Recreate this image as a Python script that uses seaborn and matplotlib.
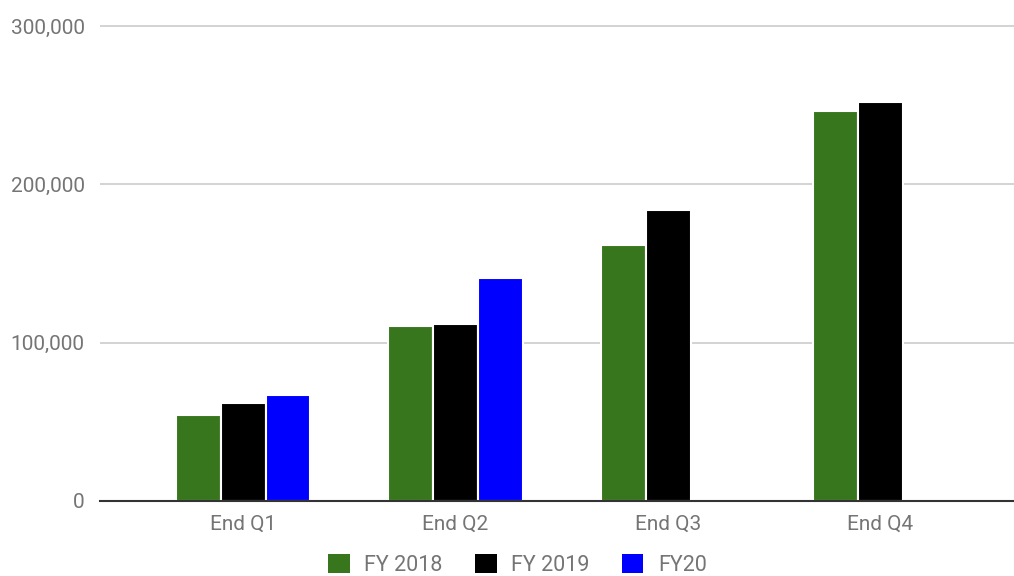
import numpy as np
import pandas as pd
import matplotlib
matplotlib.use("Agg")
import matplotlib.pyplot as plt
import seaborn as sns
from matplotlib.ticker import FuncFormatter

categories = ["End Q1", "End Q2", "End Q3", "End Q4"]
series_names = ["FY 2018", "FY 2019", "FY20"]
fy2018 = [54300, 110500, 161700, 246400]
fy2019 = [62000, 111800, 183800, 252100]
fy20 = [67000, 140900, np.nan, np.nan]
yticks = [0, 100000, 200000, 300000]
colors = ["#38761d", "#000000", "#0000ff"]

rows = []
for name, vals in zip(series_names, [fy2018, fy2019, fy20]):
    for c, v in zip(categories, vals):
        rows.append({"cat": c, "series": name, "value": v})
df = pd.DataFrame(rows)

sns.set_theme(style="white")
plt.rcParams["font.family"] = ["Roboto", "DejaVu Sans"]

fig = plt.figure(figsize=(10.14, 5.76), dpi=100)
ax = fig.add_axes([100/1014, 75/576, 914/1014, (501-18.1)/576])

sns.barplot(data=df.dropna(), x="cat", y="value", hue="series",
            order=categories, hue_order=series_names, palette=colors,
            width=0.635, edgecolor="white", linewidth=1.5, saturation=1,
            errorbar=None, ax=ax, legend=True)

ax.set_xlim(-0.673, 3.628)
ax.set_ylim(0, 305000)
ax.set_yticks(yticks)
ax.yaxis.set_major_formatter(FuncFormatter(lambda v, p: f"{int(v):,}"))
ax.grid(axis="y", color="#cccccc", linewidth=1.2)
ax.set_axisbelow(True)
for s in ["top", "right", "left"]:
    ax.spines[s].set_visible(False)
ax.spines["bottom"].set_color("#333333")
ax.spines["bottom"].set_linewidth(1.5)
ax.spines["bottom"].set_zorder(5)
ax.tick_params(axis="both", length=0, labelsize=15, labelcolor="#757575")
ax.tick_params(axis="y", pad=11)
ax.tick_params(axis="x", pad=10)
ax.set_xlabel("")
ax.set_ylabel("")

handles, labels = ax.get_legend_handles_labels()
ax.get_legend().remove()
leg = fig.legend(handles, labels, loc="center", bbox_to_anchor=(517.5/1014, 1 - 565/576),
                 ncol=3, frameon=False, fontsize=15.5, handlelength=1.0, handleheight=1.0,
                 handletextpad=0.68, columnspacing=1.5, labelcolor="#757575")
for h in leg.legend_handles:
    h.set_edgecolor("none")

fig.savefig("out.png", dpi=100)
